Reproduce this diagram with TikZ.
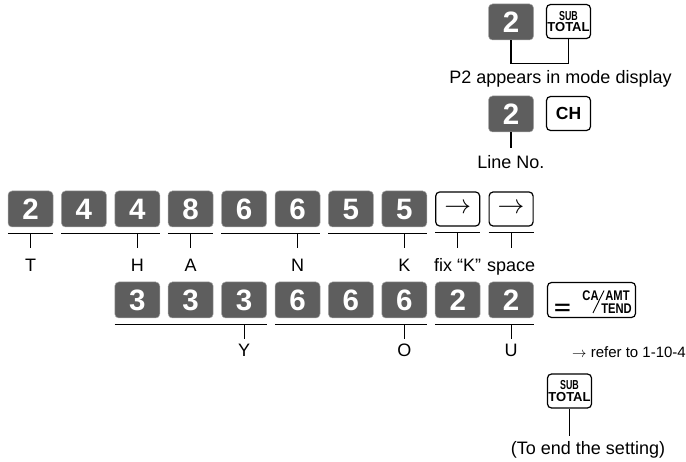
\documentclass[tikz,border=0pt]{standalone}
\usepackage{fontspec}
\setmainfont{Liberation Sans}
\usetikzlibrary{positioning}
\definecolor{keygray}{RGB}{94,94,94}
\tikzset{
  numkey/.style={
    fill=keygray,draw=keygray!55,line width=0.5pt,rounded corners=4pt,text=white,
    font=\fontsize{29.5}{29.5}\selectfont\bfseries,minimum width=45pt,minimum height=36pt,inner sep=0pt
  },
  fnkey/.style={
    draw=black,line width=1.2pt,rounded corners=4pt,fill=white,
    minimum width=44pt,minimum height=34pt,inner sep=0pt,align=center
  },
  subkey/.style={fnkey,font=\fontsize{13}{13}\selectfont\bfseries},
  arrowkey/.style={fnkey,font=\fontsize{17}{17}\selectfont},
  catext/.style={inner sep=0pt,font=\fontsize{14}{14}\selectfont\bfseries},
  keylabel/.style={font=\fontsize{18}{18}\selectfont,inner sep=0pt,text height=13pt,text depth=4pt},
  stem/.style={line width=1.1pt,draw=black}
}
\newcommand{\narrow}[1]{\scalebox{0.8}[1]{#1}}
\newcommand{\subtotal}{\scalebox{0.68}[1]{SUB}\\[-1.5pt]TOTAL}
\begin{document}
\begin{tikzpicture}[x=1pt,y=-1pt]
  \useasboundingbox (0,0) rectangle (686,462);
  % program number
  \node[numkey] (pk) at (511,22) {2};
  \node[subkey] (psub) at (568.5,21.5) {\subtotal};
  \draw[stem] (pk.south) -- ++(0,23) -| (psub.south);
  \node[keylabel,anchor=north] (pnote) at (560.5,70) {P2 appears in mode display};
  % line number
  \node[numkey] (lk) at (511,114) {2};
  \node[fnkey,font=\fontsize{17.5}{17.5}\selectfont\bfseries] (ch) at (568.5,113.5) {CH};
  \draw[stem] (lk.south) -- ++(0,16) node[keylabel,below=7pt] (lnote) {Line No.};
  % first row of characters
  \foreach \d [count=\i] in {2,4,4,8,6,6,5,5}
    \node[numkey] (a\i) at ({30.5+53.4*(\i-1)},209) {\d};
  \node[arrowkey] (a9) at (457.7,209) {\scalebox{1.55}{$\rightarrow$}};
  \node[arrowkey] (a10) at (511.1,209) {\scalebox{1.55}{$\rightarrow$}};
  \foreach \f/\l/\t in {a1/a1/T,a2/a3/H,a4/a4/A,a5/a6/N,a7/a8/K,a9/a9/fix “K”,a10/a10/space} {
    \draw[stem] ([yshift=-6pt]\f.south west) -- ([yshift=-6pt]\l.south east);
    \draw[stem] ([yshift=-6pt]\l.south) -- ++(0,15) node[keylabel,below=10pt] (t-\l) {\t};
  }
  % second row of characters
  \foreach \d [count=\i from 3] in {3,3,3,6,6,6,2,2}
    \node[numkey] (b\i) at ({30.5+53.4*(\i-1)},300) {\d};
  \node[fnkey,minimum width=88pt,minimum height=35pt] (ca) at (591.5,300) {};
  \node[inner sep=0pt,font=\fontsize{22}{22}\selectfont\bfseries] (caeq) at (562.5,309.5) {\scalebox{1.3}[0.9]{=}};
  \node[catext] (caca) at (590.5,296) {\narrow{CA}};
  \draw[line width=0.9pt] (604,290.5) -- (593,313);
  \node[catext] (caamt) at (617.5,296) {\narrow{AMT}};
  \node[catext] (catend) at (616.5,308.5) {\narrow{TEND}};
  \foreach \f/\l/\t in {b3/b5/Y,b6/b8/O,b9/b10/U} {
    \draw[stem] ([yshift=-6pt]\f.south west) -- ([yshift=-6pt]\l.south east);
    \draw[stem] ([yshift=-6pt]\l.south) -- ++(0,15) node[keylabel,below=4pt] (t-\l) {\t};
  }
  \node[anchor=base west,inner sep=0pt,font=\fontsize{15}{15}\selectfont] (refnote) at (572,357.5)
    {$\rightarrow$ refer to 1-10-4};
  % end of setting
  \node[subkey] (endsub) at (569.5,391) {\subtotal};
  \draw[stem] (endsub.south) -- ++(0,27) coordinate (endtip);
  \node[keylabel,anchor=north] (endnote) at (588,441) {(To end the setting)};
\end{tikzpicture}
\end{document}
